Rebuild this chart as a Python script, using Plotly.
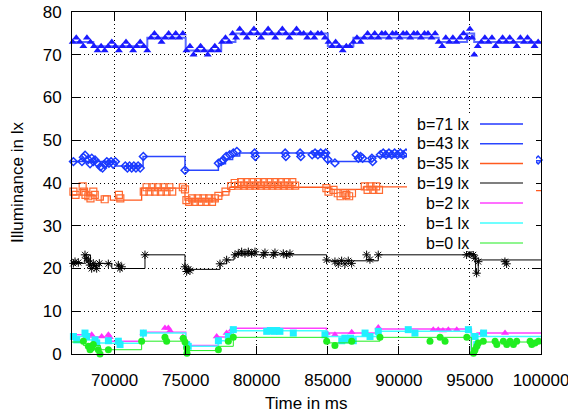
import plotly.graph_objects as go

# ---------------- data ----------------
x_ticks = [70000, 75000, 80000, 85000, 90000, 95000, 100000]
y_ticks = [0, 10, 20, 30, 40, 50, 60, 70, 80]
series_names = ["b=71 lx", "b=43 lx", "b=35 lx", "b=19 lx", "b=2 lx", "b=1 lx", "b=0 lx"]

# b=71 measured points
t71 = [67050, 67300, 67550, 67800, 68050, 68300, 68550, 68800, 69050, 69300,
       69550, 69800, 70050, 70300, 70550, 70800, 71050, 71300, 71550, 71800,
       72050, 72300, 72550, 72800, 73050, 73300, 73550, 73800, 74050, 74300,
       74550, 74800, 75050, 75300, 75550, 75800, 76050, 76300, 76550, 76800,
       77050, 77300, 77550, 77800, 78050, 78300, 78550, 78800, 79050, 79300,
       79550, 79800, 80050, 80300, 80550, 80800, 81050, 81300, 81550, 81800,
       82050, 82300, 82550, 82800, 83050, 83300, 83550, 83800, 84050, 84300,
       84550, 84800, 85050, 85300, 85550, 85800, 86050, 86300, 86550, 86800,
       87050, 87300, 87550, 87800, 88050, 88300, 88550, 88800, 89050, 89300,
       89550, 89800, 90050, 90300, 90550, 90800, 91050, 91300, 91550, 91800,
       92050, 92300, 92550, 92800, 93050, 93300, 93550, 93800, 94050, 94300,
       94550, 94800, 95000, 95150, 95300, 95550, 95800, 96050, 96300, 96550,
       96800, 97050, 97300, 97550, 97800, 98050, 98300, 98550, 98800, 99050,
       99300, 99550, 99800]
v71 = [73, 74, 73, 72, 74, 73, 72, 71, 72, 71,
       72, 73, 72, 71, 72, 73, 72, 71, 72, 73,
       72, 71, 74, 75, 74, 73, 74, 75, 74, 75,
       74, 75, 71, 72, 70, 71, 72, 71, 70, 71,
       72, 71, 73, 74, 73, 75, 74, 76, 75, 74,
       75, 76, 75, 74, 75, 76, 75, 74, 75, 76,
       75, 74, 75, 76, 75, 75, 74, 75, 74, 75,
       75, 74, 73, 72, 73, 72, 71, 72, 72, 73,
       74, 73, 74, 75, 74, 75, 74, 75, 75, 74,
       75, 75, 74, 75, 75, 74, 75, 75, 74, 75,
       75, 74, 75, 73, 72, 74, 73, 74, 73, 74,
       75, 74, 76, 74, 70, 72, 73, 74, 73, 74,
       72, 73, 74, 73, 74, 73, 72, 74, 73, 74,
       73, 72, 73]
lt71 = [67000, 68500, 72300, 75000, 77500, 78500, 85000, 86800, 92800, 94800, 95300, 100000]
lv71 = [73, 72, 74, 71, 73, 75, 72, 74, 73, 75, 73, 73]

# b=43
t43 = [67100, 67700, 67800, 67920, 68150, 68270, 68390, 68500, 68620, 68800,
       69000, 69150, 69300, 69450, 69600, 69750, 69900, 70050, 70750, 70900,
       71050, 71200, 71350, 71500, 71650, 71800, 72020, 74950, 77300, 77500,
       77650, 77850, 78100, 78350, 78600, 79850, 79900, 82000, 82050, 83050,
       83100, 83900, 84100, 84300, 84500, 84700, 84850, 85000, 85500, 87000,
       87150, 87300, 87450, 88100, 88150, 88700, 88900, 89100, 89300, 89500,
       89700, 89900, 90100, 90300, 90500, 99800]
v43 = [45, 45, 46, 46.5, 45.5, 44.5, 45.8, 45, 45.4, 44.6,
       43.8, 43.5, 44.3, 45, 44.6, 45, 44.4, 45, 44, 43.5,
       44, 43.5, 44, 43.5, 44, 43.5, 46.2, 43, 44.6, 45,
       45.4, 46.2, 46.6, 47, 47.4, 47, 46.2, 47, 46.2, 47,
       46.2, 46.6, 47, 46.6, 47, 46.6, 47, 45.5, 44.7, 46.6,
       45.8, 46.2, 45.8, 45.8, 45, 46.6, 47, 46.6, 47, 46.6,
       47, 46.6, 47, 46.6, 47, 45.4]
lt43 = [67000, 70100, 72000, 74950, 77300, 77800, 78300, 78800, 85000, 88000, 95000, 100000]
lv43 = [45, 44, 46.2, 43, 44.5, 45.5, 46.3, 47, 45, 46.2, 45.2, 45.2]

# b=35
t35 = [67100, 67250, 67750, 67850, 67950, 68150, 68300, 68500, 68600, 69300,
       70300, 70400, 72050, 72250, 72450, 72650, 72850, 73050, 73250, 73450,
       73650, 73850, 74050, 74800, 74950, 75050, 75250, 75450, 75650, 75850,
       76050, 76250, 76450, 76650, 76850, 77050, 77300, 77800, 78200, 78450,
       78700, 78900, 79100, 79300, 79500, 79700, 79900, 80100, 80300, 80500,
       80700, 80900, 81100, 81300, 81500, 81700, 81900, 82100, 82300, 82500,
       82700, 84900, 85050, 85400, 85700, 85900, 86100, 86300, 86500, 86700,
       87600, 87800, 88000, 88200, 88400, 88600]
v35 = [38, 37.2, 39.2, 38, 37.2, 36.9, 36.4, 38, 37.2, 36.2,
       37.2, 36.4, 38, 39, 38, 39, 38, 39, 38, 39,
       38, 39, 38, 39, 38.5, 36, 35.6, 36.4, 35.6, 36.4,
       35.6, 36.4, 35.6, 36.4, 35.6, 36.4, 37, 38, 39.3, 40,
       39.4, 40.2, 39.4, 40.2, 39.4, 40.2, 39.4, 40.2, 39.4, 40.2,
       39.4, 40.2, 39.4, 40.2, 39.4, 40.2, 39.4, 40.2, 39.4, 40.2,
       39.4, 38.8, 38, 38.4, 37.6, 36.9, 37.6, 37.2, 36.9, 37.6,
       39.2, 38.4, 39.2, 38.4, 39.2, 38.4]
lt35 = [67000, 67600, 68000, 68700, 69200, 69700, 71900, 74950, 77300, 77600, 78100, 78500, 85200, 87500, 95000, 100000]
lv35 = [37.2, 38.5, 37, 36, 37, 36, 38.8, 36, 37, 38, 39, 39, 38.5, 39.1, 38.2, 38.2]

# b=19
t19 = [67094, 67211, 67445, 67914, 68032, 68149, 68266, 68383, 68500, 68618,
       68735, 68923, 69556, 70259, 70377, 70494, 72135, 74949, 75067, 75184,
       75301, 77412, 77881, 78467, 78701, 78936, 79170, 79405, 79640, 79874,
       80460, 80577, 81164, 81281, 81867, 82101, 82336, 84915, 85502, 85736,
       85971, 86205, 86440, 86674, 87730, 87964, 88550, 94764, 94999, 95233,
       95351, 95468, 95585, 97461, 97578]
v19 = [21.2, 21.6, 21.4, 23.2, 22.4, 21.8, 20.8, 20.0, 21.2, 20.6,
       20.0, 21.2, 21.1, 20.8, 20.0, 20.4, 23.2, 20.4, 19.3, 19.8,
       19.5, 21.1, 22.0, 23.2, 23.5, 23.9, 23.5, 23.9, 23.5, 23.9,
       23.2, 23.7, 23.2, 23.7, 23.5, 23.2, 23.5, 22.0, 21.6, 21.1,
       21.8, 21.1, 21.8, 21.2, 23.2, 22.1, 23.2, 23.2, 23.5, 23.2,
       22.4, 18.9, 21.6, 21.6, 21.1]
lt19 = [67000, 67900, 68300, 69000, 69800, 72135, 74950, 77412, 77881, 78400, 84915, 88550, 95400, 95585, 100000]
lv19 = [21.2, 23.2, 20.8, 21.2, 20.0, 23.2, 19.8, 21.1, 22.0, 23.2, 21.8, 23.2, 18.9, 22.0, 22.0]

# b=2
t2 = [68386, 69090, 69560, 69660, 72020, 73540, 73780, 73900, 74800, 77180,
      77880, 78230, 84920, 85500, 86680, 88550, 92420, 92770, 93100, 93480,
      94070, 95830, 97470]
v2 = [4.5, 4.1, 4.5, 3.9, 4.9, 6.1, 6.1, 5.45, 4.0, 4.1,
      4.9, 5.7, 4.9, 4.5, 5.1, 6.2, 5.7, 5.7, 5.5, 5.7,
      5.7, 4.9, 4.9]
lt2 = [67000, 67800, 69700, 72000, 75000, 77300, 77900, 78300, 84900, 88440, 95100, 95500, 100000]
lv2 = [4.5, 4.0, 3.0, 5.1, 2.0, 4.0, 5.0, 6.0, 4.9, 5.85, 1.0, 4.9, 4.9]

# b=1
t1 = [67100, 67330, 67915, 68030, 68620, 68740, 69560, 70260, 70380, 72020,
      75070, 75180, 77300, 78000, 78350, 80700, 80950, 81200, 81400, 81630,
      82570, 84800, 85980, 86200, 86400, 86600, 86790, 87620, 87970, 88550,
      90660, 91130, 94890, 95360, 95480, 95960]
v1 = [4.1, 3.3, 4.9, 4.1, 3.3, 2.6, 3.1, 3.0, 2.2, 4.9,
      2.2, 1.8, 3.1, 4.1, 5.7, 5.3, 5.5, 5.3, 5.5, 5.3,
      4.9, 4.5, 3.1, 3.7, 3.3, 3.7, 3.1, 4.9, 4.1, 5.3,
      5.7, 4.9, 5.7, 4.1, 2.2, 4.9]
lt1 = [67000, 67900, 68700, 69600, 72000, 75000, 77300, 78000, 78350, 84900, 88440, 95100, 95400, 100000]
lv1 = [4.1, 3.3, 2.6, 2.5, 4.9, 1.8, 3.1, 4.1, 5.45, 4.1, 5.3, 1.0, 4.1, 4.1]

# b=0
t0 = [67800, 68150, 68270, 68390, 68500, 68850, 68970, 69560, 71900, 73540,
      73660, 74830, 74950, 75070, 75090, 77300, 78000, 78350, 84920, 85500,
      86680, 88670, 92190, 92900, 93250, 94780, 95250, 95360, 95480, 95590,
      95940, 96770, 96890, 97350, 97590, 97820, 98060, 98290, 99230, 99350,
      99580, 99820]
v0 = [3.0, 1.8, 1.0, 1.4, 2.2, 1.0, 0.0, 1.0, 3.0, 3.9,
      3.0, 3.7, 2.8, 1.4, 0.2, 1.0, 3.0, 3.9, 3.0, 2.0,
      3.0, 3.9, 3.0, 3.9, 3.0, 3.9, 0.2, 1.0, 1.8, 2.6,
      3.0, 3.0, 2.2, 3.0, 2.2, 3.0, 2.2, 3.0, 3.0, 2.2,
      2.6, 3.0]
lt0 = [67000, 67800, 69000, 71900, 75000, 77300, 78350, 84920, 86680, 88670, 95100, 95500, 100000]
lv0 = [2.8, 2.0, 1.0, 3.0, 0.8, 1.8, 3.9, 2.6, 3.0, 3.9, 0.2, 2.8, 2.8]

# ---------------- styles ----------------
FONT = "Liberation Sans, Arial, sans-serif"
styles = [
    # line color, line width, marker symbol, marker color, marker size, marker line width
    ("#5a6aff", 2.0, "triangle-up", "#1a1aff", 7, 0),
    ("#2a46ff", 1.5, "diamond-open", "#1a3aff", 6, 1.5),
    ("#ff5a1f", 1.3, "square-open", "#ff6a30", 7, 1.2),
    ("#000000", 1.0, "asterisk-open", "#000000", 7, 1.0),
    ("#ff40ff", 1.5, "triangle-up", "#ff30ff", 7, 0),
    ("#40ffff", 1.5, "square", "#20f0ff", 7, 0),
    ("#20ee20", 1.0, "circle", "#20ee20", 7, 0),
]
points = [(t71, v71), (t43, v43), (t35, v35), (t19, v19), (t2, v2), (t1, v1), (t0, v0)]
lines = [(lt71, lv71), (lt43, lv43), (lt35, lv35), (lt19, lv19), (lt2, lv2), (lt1, lv1), (lt0, lv0)]

fig = go.Figure()
for (lc, lw, sym, mc, ms, mlw), (lx, ly), (px, py), name in zip(styles, lines, points, series_names):
    fig.add_trace(go.Scatter(x=lx, y=ly, mode="lines", line=dict(color=lc, width=lw, shape="hv"),
                             name=name, showlegend=False, cliponaxis=True))
    fig.add_trace(go.Scatter(x=px, y=py, mode="markers", showlegend=False, cliponaxis=False,
                             marker=dict(symbol=sym, color=mc, size=ms,
                                         line=dict(color=mc, width=mlw))))

# ---------------- layout ----------------
W, H = 568, 412
L, T = 72, 12
PR, PB = 541, 354          # plot right / bottom in page px
R, B = W - PR, H - PB
pw, ph = PR - L, PB - T


def px2x(px):
    return (px - L) / pw


def py2y(py):
    return (PB - py) / ph


shapes = [dict(type="rect", xref="paper", yref="paper", x0=px2x(407), x1=px2x(536),
               y0=py2y(251), y1=py2y(114), fillcolor="white", line=dict(width=0), layer="above")]
annotations = []
row_y = [124, 143.7, 163.5, 183, 203, 223, 243]
for (lc, lw, *_), name, ry in zip(styles, series_names, row_y):
    shapes.append(dict(type="line", xref="paper", yref="paper", x0=px2x(480), x1=px2x(523),
                       y0=py2y(ry), y1=py2y(ry), line=dict(color=lc, width=max(lw, 1.2)), layer="above"))
    annotations.append(dict(text=name, xref="paper", yref="paper", x=px2x(471), y=py2y(ry),
                            xanchor="right", yanchor="middle", showarrow=False,
                            font=dict(family=FONT, size=16, color="#000")))

annotations.append(dict(text="Time in ms", xref="paper", yref="paper", x=0.5, y=py2y(403),
                        xanchor="center", yanchor="middle", showarrow=False,
                        font=dict(family=FONT, size=17, color="#000")))
annotations.append(dict(text="Illuminance in lx", xref="paper", yref="paper", x=px2x(17), y=0.5,
                        xanchor="center", yanchor="middle", showarrow=False, textangle=-90,
                        font=dict(family=FONT, size=17, color="#000")))

axis_common = dict(showline=True, linecolor="#000", linewidth=1, mirror="ticks",
                   ticks="inside", ticklen=8, tickcolor="#000", tickwidth=1,
                   showgrid=True, gridcolor="#000", gridwidth=1, griddash="1px,3px",
                   zeroline=False, ticklabeloverflow="allow",
                   tickfont=dict(family=FONT, size=17, color="#000"))

fig.update_layout(
    width=W, height=H, margin=dict(l=L, r=R, t=T, b=B, autoexpand=False),
    paper_bgcolor="white", plot_bgcolor="white",
    xaxis=dict(range=[67000, 100000], tickvals=x_ticks, ticktext=[str(v) for v in x_ticks],
               ticklabelstandoff=11, **axis_common),
    yaxis=dict(range=[0, 80], tickvals=y_ticks, ticktext=[str(v) for v in y_ticks],
               ticklabelstandoff=6, **axis_common),
    shapes=shapes, annotations=annotations, showlegend=False,
)

# remove the default 8px page margin so the figure sits at the window's top-left
fig.write_html("out.html", config={"displayModeBar": False},
               post_script="document.body.style.margin='0px';")
